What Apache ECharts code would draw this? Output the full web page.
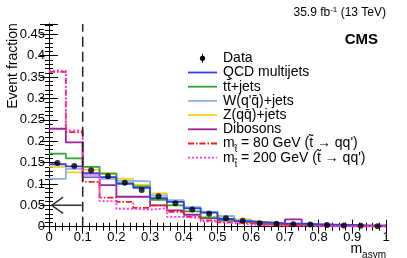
<!DOCTYPE html>
<html><head><meta charset="utf-8">
<script src="https://cdn.jsdelivr.net/npm/echarts@6/dist/echarts.min.js"></script>
<style>html,body{margin:0;padding:0;background:#fff}#c{width:407px;height:258px}</style>
</head><body><div id="c"></div>
<script>
const binEdges = [0,0.05,0.1,0.15,0.2,0.25,0.3,0.35,0.4,0.45,0.5,0.55,0.6,0.65,0.7,0.75,0.8,0.85,0.9,0.95,1.0];
const dataVals   = [0.149,0.142,0.132,0.118,0.103,0.086,0.071,0.055,0.040,0.030,0.020,0.014,0.008,0.007,0.006,0.005,0.004,0.003,0.002,0.001];
const qcdVals    = [0.146,0.141,0.125,0.116,0.100,0.091,0.067,0.058,0.043,0.033,0.018,0.013,0.010,0.008,0.007,0.006,0.005,0.004,0.003,0.003];
const ttVals     = [0.171,0.160,0.140,0.124,0.102,0.094,0.063,0.050,0.036,0.022,0.014,0.010,0.006,0.005,0.004,0.003,0.003,0.002,0.002,0.001];
const wVals      = [0.112,0.135,0.118,0.112,0.107,0.106,0.073,0.062,0.046,0.035,0.025,0.015,0.010,0.007,0.005,0.004,0.003,0.002,0.002,0.001];
const zVals      = [0.140,0.127,0.133,0.125,0.112,0.098,0.078,0.060,0.045,0.033,0.024,0.017,0.011,0.008,0.006,0.004,0.003,0.002,0.002,0.001];
const dibVals    = [0.229,0.197,0.116,0.097,0.070,0.070,0.050,0.038,0.028,0.020,0.016,0.012,0.008,0.006,0.017,0.004,0.003,0.002,0.002,0.001];
const sig80Vals  = [0.362,0.221,0.105,0.068,0.058,0.044,0.050,0.035,0.023,0.015,0.010,0.008,0.005,0.004,0.003,0.002,0.002,0.001,0.001,0.001];
const sig200Vals = [0.365,0.225,0.123,0.060,0.042,0.040,0.043,0.023,0.020,0.012,0.008,0.005,0.003,0.002,0.002,0.001,0.001,0.001,0.001,0.001];
const yTickLabels = ['0','0.05','0.1','0.15','0.2','0.25','0.3','0.35','0.4','0.45'];
const cutValue = 0.1;
const arrowY = 0.05, arrowTip = 0.008, arrowHeadX = 0.042, arrowHeadDy = 0.019;
const legendLabels = ['Data','QCD multijets','tt\u0304+jets',"W(q'q\u0304)+jets",'Z(qq\u0304)+jets','Dibosons',
  "m{sub|t\u0303} = 80 GeV (t\u0303 \u2192 qq')","m{sub|t\u0303} = 200 GeV (t\u0303 \u2192 qq')"];

const FONT = 'Liberation Sans, Arial, Helvetica, sans-serif';
const YMAX = 0.474;
const colors = {qcd:'#3040ee', tt:'#2ea52e', w:'#8db0e8', z:'#ffcc22', dib:'#a020a0', s80:'#ff1a1a', s200:'#ff33ff'};

function hist(vals){ const d = vals.map((v,i)=>[binEdges[i], v]); d.push([binEdges[binEdges.length-1], vals[vals.length-1]]); return d; }
function centers(vals){ return vals.map((v,i)=>[(binEdges[i]+binEdges[i+1])/2, v]); }
function stepSeries(name, vals, color, type){
  return {name, type:'line', step:'end', data:hist(vals), symbol:'none', silent:true,
    lineStyle:{color, width:1.8, type:type||'solid'}, z:3, animation:false};
}

const chart = echarts.init(document.getElementById('c'), null, {renderer:'canvas'});
const axTick = {show:true, inside:true, length:8, lineStyle:{color:'#000', width:1}};
const axMinor = {show:true, splitNumber:5, length:4, lineStyle:{color:'#000', width:1}};
const axLine = {show:true, lineStyle:{color:'#000', width:1}};

const legendItems = [];
const lx0 = 188, lx1 = 217, ltx = 223, ly0 = 58.3, ldy = 14.2;
const legStyles = [
  null,
  {stroke:colors.qcd},{stroke:colors.tt},{stroke:colors.w},{stroke:colors.z},{stroke:colors.dib},
  {stroke:colors.s80, lineDash:[6,2,1.5,2]},{stroke:colors.s200, lineDash:[2,2]}
];
legendLabels.forEach((lab,i)=>{
  const y = ly0 + i*ldy;
  if(i===0){
    legendItems.push({type:'circle', shape:{cx:(lx0+lx1)/2, cy:y, r:2.6}, style:{fill:'#000'}});
    legendItems.push({type:'line', shape:{x1:(lx0+lx1)/2, y1:y-4.5, x2:(lx0+lx1)/2, y2:y+4.5}, style:{stroke:'#000', lineWidth:1}});
  } else {
    legendItems.push({type:'line', shape:{x1:lx0, y1:y, x2:lx1, y2:y}, style:Object.assign({lineWidth:1.8}, legStyles[i])});
  }
  legendItems.push({type:'text', x:ltx, y:y, style:{text:lab, font:'14px '+FONT, fill:'#000', verticalAlign:'middle',
    rich:{sub:{fontSize:9, fontFamily:FONT, verticalAlign:'bottom', lineHeight:22}}}});
});

const option = {
  animation:false,
  grid:{left:49, right:21, top:24, bottom:31.3, containLabel:false},
  xAxis:[
    {type:'value', min:0, max:1, interval:0.1, axisLine:axLine, axisTick:Object.assign({},axTick,{length:7}), minorTick:axMinor, splitLine:{show:false},
      axisLabel:{color:'#000', fontSize:13, fontFamily:FONT, margin:4}},
    {type:'value', position:'top', min:0, max:1, interval:0.1, axisLine:axLine, axisTick:Object.assign({},axTick,{length:7}), minorTick:axMinor, splitLine:{show:false}, axisLabel:{show:false}}
  ],
  yAxis:[
    {type:'value', min:0, max:YMAX, interval:0.05, axisLine:axLine, axisTick:Object.assign({},axTick,{length:9}), minorTick:axMinor, splitLine:{show:false},
      axisLabel:{color:'#000', fontSize:13, fontFamily:FONT, margin:4, showMaxLabel:false,
        formatter:(v)=>{const k=Math.round(v/0.05); return (Math.abs(v-k*0.05)<1e-6 && k<yTickLabels.length)? yTickLabels[k] : '';}}},
    {type:'value', position:'right', min:0, max:YMAX, interval:0.05, axisLine:axLine, axisTick:Object.assign({},axTick,{length:9}), minorTick:axMinor, splitLine:{show:false}, axisLabel:{show:false}}
  ],
  series:[
    stepSeries('Dibosons', dibVals, colors.dib),
    stepSeries('Z', zVals, colors.z),
    stepSeries('W', wVals, colors.w),
    stepSeries('tt', ttVals, colors.tt),
    stepSeries('QCD', qcdVals, colors.qcd),
    stepSeries('sig80', sig80Vals, colors.s80, [6,2,1.5,2]),
    stepSeries('sig200', sig200Vals, colors.s200, [2,2]),
    {type:'line', data:[[cutValue,0],[cutValue,YMAX]], symbol:'none', lineStyle:{color:'#222', width:1.5, type:[10,5]}, z:4, silent:true},
    {type:'line', data:[[cutValue-0.003,arrowY],[arrowTip,arrowY]], symbol:'none', lineStyle:{color:'#333', width:1.5}, z:4, silent:true},
    {type:'line', data:[[arrowHeadX,arrowY+arrowHeadDy],[arrowTip,arrowY],[arrowHeadX,arrowY-arrowHeadDy]], symbol:'none', lineStyle:{color:'#333', width:1.5}, z:4, silent:true},
    {name:'Data', type:'scatter', data:centers(dataVals), symbol:'circle', symbolSize:6, itemStyle:{color:'#000'}, z:6, silent:true}
  ],
  graphic:[
    {type:'text', x:13, y:66, rotation:Math.PI/2, style:{text:'Event fraction', font:'14px '+FONT, fill:'#000', align:'center', verticalAlign:'middle'}},
    {type:'text', x:386, y:249, style:{text:'m{sub|asym}', font:'14px '+FONT, fill:'#000', align:'right', verticalAlign:'middle',
      rich:{sub:{fontSize:10, fontFamily:FONT, verticalAlign:'bottom', lineHeight:22}}}},
    {type:'text', x:386, y:13, style:{text:'35.9 fb{sup|-1} (13 TeV)', font:'12px '+FONT, fill:'#000', align:'right', verticalAlign:'middle',
      rich:{sup:{fontSize:8, fontFamily:FONT, verticalAlign:'top', lineHeight:14}}}},
    {type:'text', x:378, y:40, style:{text:'CMS', font:'bold 15px '+FONT, fill:'#000', align:'right', verticalAlign:'middle'}}
  ].concat(legendItems)
};
chart.setOption(option);
</script></body></html>
